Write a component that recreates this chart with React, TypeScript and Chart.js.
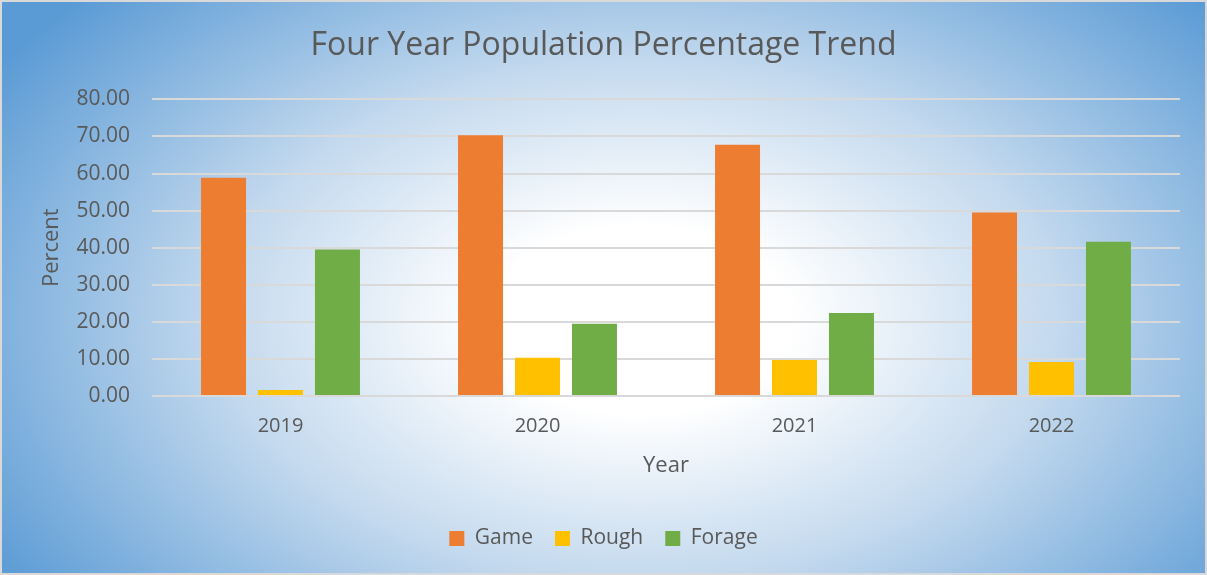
import React, { useEffect, useRef } from "react";
import { Chart, registerables } from "chart.js";

Chart.register(...registerables);

const categories = ["2019", "2020", "2021", "2022"];
const gameValues = [58.9, 70.3, 67.8, 49.5];
const roughValues = [1.6, 10.3, 9.7, 9.2];
const forageValues = [39.5, 19.5, 22.4, 41.6];
const yTicks = [0, 10, 20, 30, 40, 50, 60, 70, 80];

const FONT = "'Open Sans', sans-serif";
const TEXT = "#595959";

const backgroundPlugin = {
  id: "bgGradient",
  beforeDraw(chart: any) {
    const { ctx, width, height } = chart;
    ctx.save();
    const cx = 640;
    const cy = 320;
    const rx = 760;
    const ry = 470;
    ctx.translate(cx, cy);
    ctx.scale(1, ry / rx);
    const g = ctx.createRadialGradient(0, 0, 0, 0, 0, rx);
    g.addColorStop(0, "#ffffff");
    g.addColorStop(0.2, "#ffffff");
    g.addColorStop(0.55, "#c3d9ee");
    g.addColorStop(1, "#5b9bd5");
    ctx.fillStyle = g;
    ctx.fillRect(-cx, -cy * (rx / ry), width, height * (rx / ry) + 10);
    ctx.restore();
    ctx.save();
    ctx.strokeStyle = "#d9d9d9";
    ctx.lineWidth = 2;
    ctx.strokeRect(1, 1, width - 2, height - 2);
    ctx.restore();
  },
};

export default function App() {
  const ref = useRef<HTMLCanvasElement>(null);
  useEffect(() => {
    document.body.style.margin = "0";
    const canvas = ref.current!;
    const chart = new Chart(canvas, {
      type: "bar",
      data: {
        labels: categories,
        datasets: [
          { label: "Game", data: gameValues, backgroundColor: "#ed7d31" },
          { label: "Rough", data: roughValues, backgroundColor: "#ffc000" },
          { label: "Forage", data: forageValues, backgroundColor: "#70ad47" },
        ],
      },
      options: {
        animation: false,
        responsive: false,
        maintainAspectRatio: false,
        layout: { padding: { left: 0, right: 0, top: 0, bottom: 16 } },
        datasets: { bar: { categoryPercentage: 0.665, barPercentage: 0.79 } } as any,
        plugins: {
          title: {
            display: true,
            text: "Four Year Population Percentage Trend",
            color: TEXT,
            font: { family: FONT, size: 32, weight: "normal" },
            padding: { top: 27, bottom: 34 },
          },
          legend: {
            position: "bottom",
            labels: {
              color: TEXT,
              font: { family: FONT, size: 21 },
              boxWidth: 15,
              boxHeight: 15,
              padding: 22,
            },
          },
          tooltip: { enabled: false },
        },
        scales: {
          x: {
            grid: { display: false, drawTicks: false },
            border: { display: false },
            ticks: { color: TEXT, font: { family: FONT, size: 20 }, padding: 18 },
            title: {
              display: true,
              text: "Year",
              color: TEXT,
              font: { family: FONT, size: 22 },
              padding: { top: 0, bottom: 27 },
            },
            afterFit(scale: any) {
              scale.height = 110;
            },
          },
          y: {
            min: 0,
            max: 80,
            afterBuildTicks(scale: any) {
              scale.ticks = yTicks.map((v) => ({ value: v }));
            },
            grid: { color: "#d9d9d9", lineWidth: 2, drawTicks: false },
            border: { display: false },
            ticks: {
              color: TEXT,
              font: { family: FONT, size: 21 },
              padding: 22,
              callback: (v: any) => Number(v).toFixed(2),
            },
            title: {
              display: true,
              text: "Percent",
              color: TEXT,
              font: { family: FONT, size: 22 },
              padding: { top: 39, bottom: 0 },
            },
            afterFit(scale: any) {
              scale.width = 152;
            },
          },
          yRight: {
            position: "right",
            display: true,
            grid: { display: false, drawTicks: false },
            border: { display: false },
            ticks: { display: false },
            afterFit(scale: any) {
              scale.width = 27;
            },
          },
        },
      },
      plugins: [backgroundPlugin],
    });
    return () => chart.destroy();
  }, []);
  return <canvas ref={ref} width={1207} height={575} style={{ display: "block" }} />;
}
